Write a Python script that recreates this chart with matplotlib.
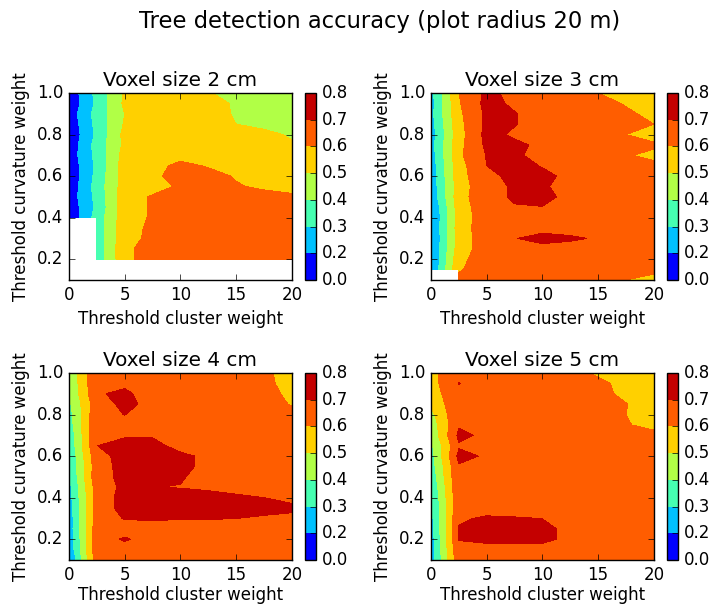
import numpy as np
import matplotlib.pyplot as plt

plt.style.use('classic')

nan = np.nan

# grid of the parameter sweep
cluster_weight = [0, 2.5, 5, 7.5, 10, 12.5, 15, 17.5, 20]
curvature_weight = [1.0, 0.95, 0.9, 0.85, 0.8, 0.75, 0.7, 0.65, 0.6, 0.55,
                    0.5, 0.45, 0.4, 0.35, 0.3, 0.25, 0.2, 0.15, 0.1]

levels = [0.0, 0.2, 0.3, 0.4, 0.5, 0.6, 0.7, 0.8]
voxel_sizes = [2, 3, 4, 5]

# accuracy, rows follow curvature_weight (top to bottom), cols follow cluster_weight
acc_2cm = [
    [0.13, 0.33, 0.51, 0.55, 0.56, 0.505, 0.47, 0.45, 0.39],
    [0.12, 0.32, 0.52, 0.56, 0.57, 0.53, 0.49, 0.46, 0.44],
    [0.14, 0.34, 0.50, 0.56, 0.57, 0.54, 0.49, 0.47, 0.46],
    [0.13, 0.33, 0.51, 0.56, 0.57, 0.55, 0.50, 0.48, 0.47],
    [0.12, 0.32, 0.53, 0.56, 0.57, 0.56, 0.53, 0.52, 0.49],
    [0.13, 0.34, 0.52, 0.55, 0.57, 0.56, 0.54, 0.53, 0.51],
    [0.14, 0.33, 0.54, 0.56, 0.58, 0.57, 0.56, 0.55, 0.54],
    [0.13, 0.32, 0.55, 0.58, 0.615, 0.595, 0.58, 0.565, 0.56],
    [0.12, 0.33, 0.55, 0.583, 0.63, 0.62, 0.595, 0.58, 0.57],
    [0.13, 0.34, 0.55, 0.56, 0.615, 0.63, 0.605, 0.59, 0.58],
    [0.14, 0.33, 0.56, 0.61, 0.64, 0.64, 0.63, 0.62, 0.61],
    [0.13, 0.32, 0.56, 0.61, 0.65, 0.65, 0.64, 0.63, 0.62],
    [0.12, 0.34, 0.56, 0.61, 0.65, 0.65, 0.65, 0.64, 0.63],
    [nan, 0.33, 0.57, 0.615, 0.65, 0.66, 0.65, 0.65, 0.64],
    [nan, 0.34, 0.57, 0.62, 0.66, 0.66, 0.66, 0.65, 0.65],
    [nan, 0.33, 0.58, 0.64, 0.66, 0.66, 0.66, 0.66, 0.65],
    [nan, 0.335, 0.575, 0.645, 0.66, 0.66, 0.66, 0.66, 0.65],
    [nan, nan, nan, nan, nan, nan, nan, nan, nan],
    [nan, nan, nan, nan, nan, nan, nan, nan, nan],
]

acc_3cm = [
    [0.27, 0.60, 0.72, 0.677, 0.66, 0.64, 0.60, 0.58, 0.55],
    [0.26, 0.59, 0.73, 0.684, 0.66, 0.65, 0.62, 0.595, 0.57],
    [0.27, 0.58, 0.72, 0.705, 0.66, 0.65, 0.64, 0.61, 0.585],
    [0.26, 0.57, 0.72, 0.705, 0.66, 0.65, 0.64, 0.63, 0.60],
    [0.25, 0.56, 0.73, 0.685, 0.66, 0.65, 0.64, 0.60, 0.548],
    [0.26, 0.57, 0.72, 0.72, 0.68, 0.66, 0.65, 0.64, 0.62],
    [0.25, 0.58, 0.705, 0.71, 0.68, 0.66, 0.65, 0.61, 0.57],
    [0.24, 0.56, 0.70, 0.73, 0.695, 0.67, 0.66, 0.64, 0.63],
    [0.24, 0.56, 0.68, 0.72, 0.72, 0.68, 0.66, 0.65, 0.64],
    [0.23, 0.55, 0.67, 0.71, 0.71, 0.67, 0.66, 0.65, 0.64],
    [0.22, 0.56, 0.67, 0.71, 0.72, 0.68, 0.66, 0.65, 0.64],
    [0.19, 0.55, 0.66, 0.695, 0.698, 0.67, 0.66, 0.65, 0.64],
    [0.18, 0.54, 0.66, 0.67, 0.67, 0.66, 0.66, 0.65, 0.64],
    [0.19, 0.55, 0.66, 0.66, 0.66, 0.66, 0.65, 0.65, 0.64],
    [0.18, 0.54, 0.66, 0.695, 0.74, 0.715, 0.69, 0.65, 0.64],
    [0.19, 0.55, 0.65, 0.66, 0.66, 0.66, 0.65, 0.65, 0.64],
    [0.18, 0.575, 0.65, 0.66, 0.66, 0.66, 0.65, 0.64, 0.64],
    [0.19, 0.59, 0.65, 0.66, 0.66, 0.66, 0.65, 0.64, 0.63],
    [nan, 0.63, 0.65, 0.66, 0.66, 0.66, 0.65, 0.60, 0.56],
]

acc_4cm = [
    [0.42, 0.69, 0.67, 0.66, 0.66, 0.65, 0.64, 0.62, 0.56],
    [0.41, 0.69, 0.68, 0.66, 0.66, 0.65, 0.64, 0.62, 0.57],
    [0.40, 0.69, 0.72, 0.651, 0.66, 0.65, 0.64, 0.63, 0.58],
    [0.38, 0.66, 0.72, 0.677, 0.66, 0.65, 0.64, 0.63, 0.595],
    [0.36, 0.68, 0.701, 0.67, 0.66, 0.66, 0.65, 0.64, 0.62],
    [0.35, 0.69, 0.68, 0.67, 0.66, 0.66, 0.65, 0.65, 0.64],
    [0.33, 0.69, 0.69, 0.69, 0.67, 0.66, 0.66, 0.65, 0.65],
    [0.32, 0.699, 0.73, 0.73, 0.667, 0.66, 0.66, 0.65, 0.65],
    [0.31, 0.67, 0.73, 0.74, 0.72, 0.68, 0.66, 0.66, 0.65],
    [0.30, 0.66, 0.73, 0.74, 0.72, 0.68, 0.66, 0.66, 0.65],
    [0.29, 0.67, 0.72, 0.73, 0.705, 0.68, 0.67, 0.66, 0.65],
    [0.27, 0.65, 0.72, 0.701, 0.698, 0.69, 0.68, 0.67, 0.66],
    [0.26, 0.65, 0.73, 0.73, 0.72, 0.72, 0.71, 0.70, 0.69],
    [0.25, 0.65, 0.73, 0.73, 0.73, 0.725, 0.715, 0.712, 0.708],
    [0.24, 0.65, 0.705, 0.71, 0.705, 0.705, 0.70, 0.695, 0.69],
    [0.24, 0.66, 0.66, 0.66, 0.66, 0.66, 0.66, 0.66, 0.66],
    [0.23, 0.66, 0.71, 0.66, 0.66, 0.66, 0.66, 0.66, 0.66],
    [0.22, 0.665, 0.66, 0.66, 0.66, 0.66, 0.66, 0.66, 0.66],
    [0.18, 0.66, 0.66, 0.66, 0.66, 0.66, 0.66, 0.66, 0.66],
]

acc_5cm = [
    [0.57, 0.68, 0.67, 0.66, 0.65, 0.62, 0.59, 0.57, 0.56],
    [0.56, 0.702, 0.67, 0.66, 0.65, 0.64, 0.615, 0.58, 0.56],
    [0.55, 0.68, 0.67, 0.66, 0.66, 0.65, 0.62, 0.585, 0.57],
    [0.52, 0.68, 0.67, 0.66, 0.66, 0.65, 0.63, 0.602, 0.57],
    [0.47, 0.69, 0.67, 0.66, 0.66, 0.65, 0.63, 0.60, 0.58],
    [0.44, 0.69, 0.67, 0.66, 0.66, 0.65, 0.64, 0.605, 0.58],
    [0.42, 0.721, 0.68, 0.66, 0.66, 0.66, 0.65, 0.64, 0.62],
    [0.38, 0.69, 0.67, 0.66, 0.66, 0.66, 0.65, 0.64, 0.63],
    [0.36, 0.725, 0.689, 0.67, 0.66, 0.66, 0.65, 0.65, 0.64],
    [0.35, 0.691, 0.67, 0.67, 0.66, 0.66, 0.65, 0.65, 0.64],
    [0.33, 0.69, 0.67, 0.67, 0.66, 0.66, 0.66, 0.65, 0.65],
    [0.31, 0.68, 0.67, 0.67, 0.66, 0.66, 0.66, 0.65, 0.65],
    [0.29, 0.68, 0.67, 0.67, 0.67, 0.66, 0.66, 0.65, 0.65],
    [0.28, 0.68, 0.67, 0.67, 0.67, 0.66, 0.66, 0.65, 0.65],
    [0.27, 0.69, 0.71, 0.705, 0.699, 0.67, 0.66, 0.65, 0.65],
    [0.26, 0.705, 0.73, 0.73, 0.72, 0.68, 0.66, 0.65, 0.65],
    [0.25, 0.703, 0.72, 0.72, 0.72, 0.68, 0.66, 0.65, 0.64],
    [0.25, 0.68, 0.67, 0.67, 0.67, 0.66, 0.66, 0.65, 0.63],
    [0.24, 0.67, 0.67, 0.66, 0.66, 0.66, 0.65, 0.62, 0.598],
]

accuracy = [acc_2cm, acc_3cm, acc_4cm, acc_5cm]

fig = plt.figure(figsize=(7.13, 6.05), dpi=100, facecolor='white')
fig.suptitle('Tree detection accuracy (plot radius 20 m)', fontsize=16.3,
             x=0.533, y=0.983)

# left, bottom of each panel (figure fraction)
panel_pos = [(0.0968, 0.5372), (0.6045, 0.5372), (0.0968, 0.0744), (0.6045, 0.0744)]
cbar_left = [0.4278, 0.9355, 0.4278, 0.9355]
w, h = 0.3125, 0.3091

for i, size in enumerate(voxel_sizes):
    ax = fig.add_axes([panel_pos[i][0], panel_pos[i][1], w, h])
    z = np.array(accuracy[i])
    cs = ax.contourf(cluster_weight, curvature_weight, z, levels=levels,
                     cmap='jet', corner_mask=False)
    ax.set_xlim(0, 20)
    ax.set_ylim(0.1, 1.0)
    ax.set_xticks([0, 5, 10, 15, 20])
    ax.set_yticks([0.2, 0.4, 0.6, 0.8, 1.0])
    ax.set_title('Voxel size %d cm' % size, fontsize=14.4)
    # bottom row sits right at the figure edge
    ax.set_xlabel('Threshold cluster weight', fontsize=12,
                  labelpad=5 if i < 2 else 2)
    ax.set_ylabel('Threshold curvature weight', fontsize=12)

    cax = fig.add_axes([cbar_left[i], panel_pos[i][1], 0.0155, h])
    cb = fig.colorbar(cs, cax=cax, ticks=levels)
    cb.ax.set_yticklabels(['%.1f' % v for v in levels])
    cb.ax.tick_params(labelsize=12)

fig.savefig('out.png', dpi=100, facecolor='white')
